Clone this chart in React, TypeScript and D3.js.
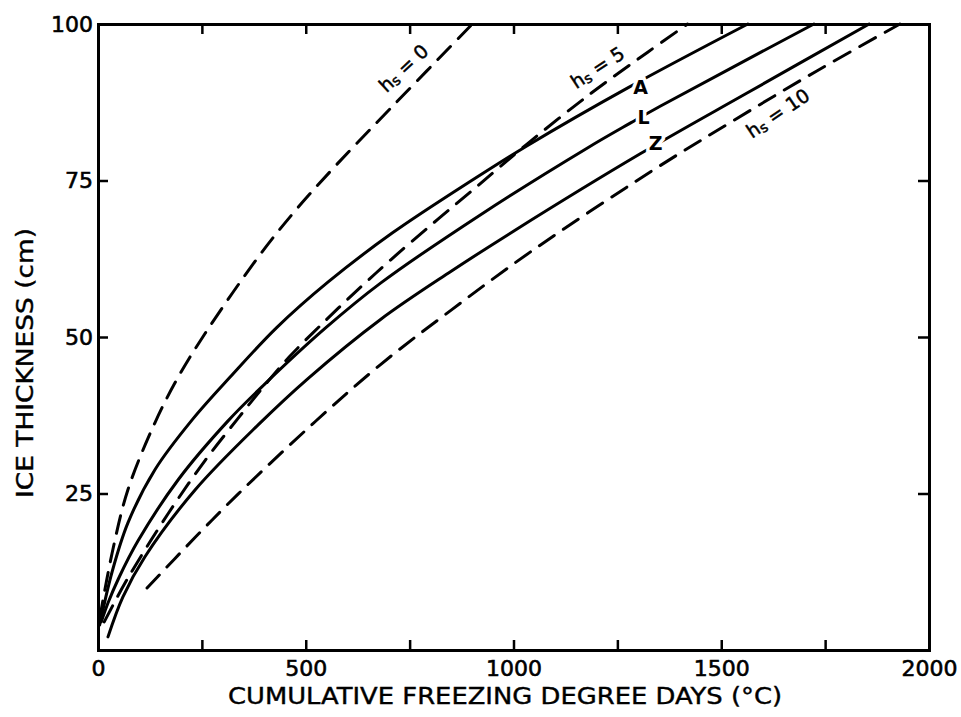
import React, { useEffect, useRef } from "react";
import * as d3 from "d3";

const W = 961;
const H = 717;

// Axis ticks
const xTicks = [0, 250, 500, 750, 1000, 1250, 1500, 1750, 2000];
const xTickLabels = [0, 500, 1000, 1500, 2000];
const yTicks = [25, 50, 75, 100];
const yTickLabels = [25, 50, 75, 100];

// Snow depth hs = 0 (dashed)
const hs0Fdd = [4, 34, 72, 137, 193, 258, 386, 475, 571, 708, 901];
const hs0Ice = [5, 15.5, 25.6, 36.3, 43.6, 50.6, 62.8, 70.2, 77.3, 86.8, 100];

// Curve A (solid)
const aFdd = [4, 34, 72, 137, 227, 318, 430, 554, 708, 904, 1034, 1275, 1564];
const aIce = [4, 12.5, 20.3, 28.8, 36.8, 43.6, 51.5, 58.8, 66.6, 75.2, 80.6, 89.8, 100];

// Snow depth hs = 5 (dashed)
const hs5Fdd = [15, 72, 169, 258, 337, 400, 460, 547, 636, 704, 800, 904, 1034, 1186, 1323, 1419];
const hs5Ice = [4.5, 11.5, 21.8, 30.3, 37, 42.2, 46.8, 52.6, 58.2, 62.3, 67.8, 73.6, 80.9, 88.9, 95.5, 100];

// Curve L (solid)
const lFdd = [8, 24, 50, 96, 193, 313, 400, 547, 680, 920, 1178, 1282, 1354, 1723];
const lIce = [4.5, 7.5, 11.5, 17.4, 27.2, 36.6, 42.4, 51.4, 58.6, 69.5, 80.2, 84.2, 86.9, 100];

// Curve Z (solid)
const zFdd = [24, 60, 113, 234, 386, 506, 680, 850, 1000, 1306, 1560, 1856];
const zIce = [2.1, 8.5, 14.9, 25.6, 36, 43.4, 52.8, 60.5, 66.9, 79.3, 88.9, 100];

// Snow depth hs = 10 (dashed)
const hs10Fdd = [118, 234, 337, 523, 680, 850, 1041, 1330, 1530, 1730, 1930];
const hs10Ice = [9.9, 18.0, 24.9, 36.5, 45.6, 54.3, 63.6, 76.4, 84.6, 92.5, 100];

// Letter labels placed on the solid curves
const letterNames = ["A", "L", "Z"];
const letterFdd = [1306, 1313, 1342];
const letterIce = [89.9, 85.1, 81.0];

// Snow-depth labels
const hsValues = ["0", "5", "10"];
const hsLabelFdd = [735, 1202, 1636];
const hsLabelIce = [93, 93.1, 85.8];
const hsLabelAngle = [-43, -33, -34];

const FONT = "'DejaVu Sans', 'Liberation Sans', sans-serif";

const x = d3.scaleLinear().domain([0, 2000]).range([98, 929]);
const y = d3.scaleLinear().domain([0, 100]).range([650, 24]);

const line = d3
  .line<[number, number]>()
  .x((d) => x(d[0]))
  .y((d) => y(d[1]))
  .curve(d3.curveCatmullRom.alpha(0.5));

const zipPts = (a: number[], b: number[]) => a.map((v, i) => [v, b[i]] as [number, number]);

const curves = [
  { pts: zipPts(hs0Fdd, hs0Ice), dashed: true },
  { pts: zipPts(aFdd, aIce), dashed: false },
  { pts: zipPts(hs5Fdd, hs5Ice), dashed: true },
  { pts: zipPts(lFdd, lIce), dashed: false },
  { pts: zipPts(zFdd, zIce), dashed: false },
  { pts: zipPts(hs10Fdd, hs10Ice), dashed: true },
];

export default function App() {
  const axesRef = useRef<SVGGElement>(null);

  useEffect(() => {
    const g = d3.select(axesRef.current);
    g.selectAll("*").remove();

    const styleAxis = (sel: any) => {
      sel.select(".domain").attr("stroke", "#000").attr("stroke-width", 3);
      sel.selectAll(".tick line").attr("stroke", "#000").attr("stroke-width", 2.5);
      sel
        .selectAll(".tick text")
        .attr("fill", "#000")
        .attr("stroke", "#000")
        .attr("stroke-width", 0.6)
        .style("font-family", FONT)
        .style("font-size", "22px");
    };

    // bottom
    g.append("g")
      .attr("transform", `translate(0,${y(0)})`)
      .call(
        d3
          .axisBottom(x)
          .tickValues(xTicks)
          .tickSizeInner(-10)
          .tickSizeOuter(0)
          .tickPadding(10)
          .tickFormat((d: any) => (xTickLabels.includes(d) ? String(d) : ""))
      )
      .call(styleAxis);

    // top
    g.append("g")
      .attr("transform", `translate(0,${y(100)})`)
      .call(d3.axisTop(x).tickValues(xTicks).tickSizeInner(-10).tickSizeOuter(0).tickFormat(() => ""))
      .call(styleAxis);

    // left
    g.append("g")
      .attr("transform", `translate(${x(0)},0)`)
      .call(
        d3
          .axisLeft(y)
          .tickValues(yTicks)
          .tickSizeInner(-10)
          .tickSizeOuter(0)
          .tickPadding(5)
          .tickFormat((d: any) => (yTickLabels.includes(d) ? String(d) : ""))
      )
      .call(styleAxis);

    // right
    g.append("g")
      .attr("transform", `translate(${x(2000)},0)`)
      .call(d3.axisRight(y).tickValues([25, 50, 75]).tickSizeInner(-11).tickSizeOuter(0).tickFormat(() => ""))
      .call(styleAxis);

    g.selectAll(".domain").attr("stroke-linecap", "square");
  }, []);

  return (
    <svg
      width={W}
      height={H}
      style={{ position: "absolute", left: 0, top: 0, background: "#fff" }}
      fontFamily={FONT}
    >
      <rect x={0} y={0} width={W} height={H} fill="#fff" />

      {curves.map((c, i) => (
        <path
          key={i}
          d={line(c.pts) || ""}
          fill="none"
          stroke="#000"
          strokeWidth={3}
          strokeDasharray={c.dashed ? "18 11" : undefined}
          strokeLinecap="round"
        />
      ))}

      {letterNames.map((n, i) => (
        <text
          key={n}
          x={x(letterFdd[i])}
          y={y(letterIce[i])}
          textAnchor="middle"
          dominantBaseline="central"
          fontSize={19}
          fontWeight="bold"
          fill="#000"
          stroke="#fff"
          strokeWidth={7}
          paintOrder="stroke"
        >
          {n}
        </text>
      ))}

      {hsValues.map((v, i) => (
        <text
          key={v}
          transform={`translate(${x(hsLabelFdd[i])},${y(hsLabelIce[i])}) rotate(${hsLabelAngle[i]})`}
          textAnchor="middle"
          dominantBaseline="central"
          fontSize={19}
          fill="#000"
          stroke="#000"
          strokeWidth={0.5}
        >
          h<tspan fontSize={14} dy={4}>s</tspan>
          <tspan dy={-4}> = {v}</tspan>
        </text>
      ))}

      <g ref={axesRef} />

      <text
        x={505}
        y={704}
        textAnchor="middle"
        fontSize={23}
        textLength={554}
        lengthAdjust="spacingAndGlyphs"
        fill="#000"
        stroke="#000"
        strokeWidth={0.4}
      >
        CUMULATIVE FREEZING DEGREE DAYS (°C)
      </text>

      <text
        transform={`translate(33,363) rotate(-90)`}
        textAnchor="middle"
        fontSize={23}
        textLength={270}
        lengthAdjust="spacingAndGlyphs"
        fill="#000"
        stroke="#000"
        strokeWidth={0.4}
      >
        ICE THICKNESS (cm)
      </text>
    </svg>
  );
}
